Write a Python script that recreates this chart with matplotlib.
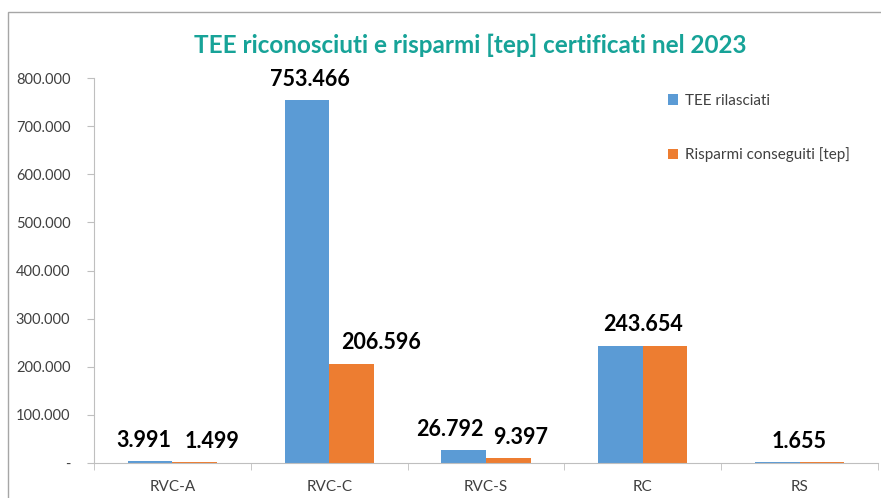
import numpy as np
import matplotlib
matplotlib.use("Agg")
import matplotlib.pyplot as plt
from matplotlib.patches import Rectangle
from matplotlib.ticker import FuncFormatter, MultipleLocator

plt.rcParams['font.family'] = ['Lato', 'DejaVu Sans']

categories = ['RVC-A', 'RVC-C', 'RVC-S', 'RC', 'RS']
tee_rilasciati = [3991, 753466, 26792, 243654, 1655]
risparmi_tep = [1499, 206596, 9397, 243654, 1655]
series_names = ['TEE rilasciati', 'Risparmi conseguiti [tep]']
title = 'TEE riconosciuti e risparmi [tep] certificati nel 2023'

blue = '#5b9bd5'
orange = '#ed7d31'
grid_grey = '#bfbfbf'
text_grey = '#404040'

# horizontal nudges (pixels) of the data labels, as placed in the original
blue_nudge = [-6, 3, -14, 0, 0]
orange_nudge = [17, 30, 12, 0, 0]


def it_fmt(v, pos=None):
    if v == 0:
        return '-'
    return f'{int(round(v)):,}'.replace(',', '.')


fig = plt.figure(figsize=(8.81, 4.98), dpi=100)
# frame around the chart area (cut at right and bottom like the screenshot)
fig.patches.append(Rectangle((8 / 881, -0.05), 1.1, 1 - 12 / 498 + 0.05,
                             transform=fig.transFigure, fill=False,
                             edgecolor='#a6a6a6', linewidth=1.0))

ax = fig.add_axes([94 / 881, 1 - 463 / 498, 784 / 881, (463 - 78) / 498])

x = np.arange(len(categories))
w = 0.285
ax.bar(x - w / 2, tee_rilasciati, w, color=blue, label=series_names[0])
ax.bar(x + w / 2, risparmi_tep, w, color=orange, label=series_names[1])

ax.set_xlim(-0.5, len(categories) - 0.5)
ax.set_ylim(0, 800000)
ax.yaxis.set_major_locator(MultipleLocator(100000))
ax.yaxis.set_major_formatter(FuncFormatter(it_fmt))

ax.set_xticks(x)
ax.set_xticklabels(categories)
ax.set_xticks(np.arange(len(categories) + 1) - 0.5, minor=True)
ax.tick_params(axis='x', which='major', length=0, pad=12, labelsize=11, labelcolor=text_grey)
ax.tick_params(axis='x', which='minor', length=5, color=grid_grey, direction='out')
ax.tick_params(axis='y', length=5, color=grid_grey, labelsize=10.5, labelcolor=text_grey, pad=12)

for s in ['top', 'right']:
    ax.spines[s].set_visible(False)
ax.spines['left'].set_color(grid_grey)
ax.spines['bottom'].set_color(grid_grey)

# data labels: one label when both bars have the same value
px = 0.72  # pixels -> points at 100 dpi
lab_kw = dict(textcoords='offset points', ha='center', va='bottom',
              fontsize=15.5, fontweight='bold', color='black')
for i in range(len(categories)):
    if tee_rilasciati[i] == risparmi_tep[i]:
        ax.annotate(it_fmt(tee_rilasciati[i]), (x[i], tee_rilasciati[i]),
                    xytext=(0, 7.5), **lab_kw)
    else:
        ax.annotate(it_fmt(tee_rilasciati[i]), (x[i] - w / 2, tee_rilasciati[i]),
                    xytext=(blue_nudge[i] * px, 7.5), **lab_kw)
        ax.annotate(it_fmt(risparmi_tep[i]), (x[i] + w / 2, risparmi_tep[i]),
                    xytext=(orange_nudge[i] * px, 7.5), **lab_kw)

fig.text(470 / 881, 1 - 45 / 498, title, ha='center', va='center',
         fontsize=17.5, fontweight='bold', color='#17a398')

ax.legend(loc='upper left', bbox_to_anchor=(654 / 881, 1 - 80 / 498),
          bbox_transform=fig.transFigure, frameon=False, fontsize=11,
          labelspacing=2.6, handlelength=0.7, handleheight=0.7, handletextpad=0.4,
          labelcolor=text_grey)

fig.savefig('out.png', dpi=100, facecolor='white')
